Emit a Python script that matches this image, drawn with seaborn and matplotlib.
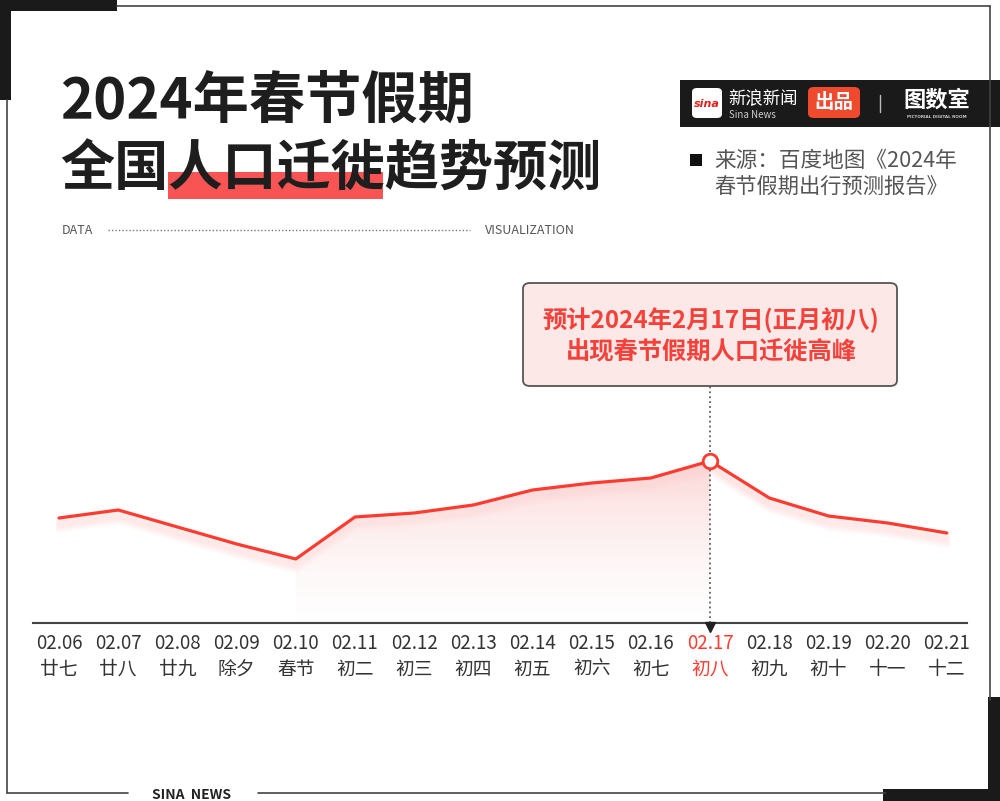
import numpy as np
import pandas as pd
import matplotlib
matplotlib.use("Agg")
import matplotlib.pyplot as plt
import seaborn as sns
from matplotlib.patches import Rectangle, FancyBboxPatch, Polygon

# ---------------- data ----------------
dates = ["02.06", "02.07", "02.08", "02.09", "02.10", "02.11", "02.12", "02.13",
         "02.14", "02.15", "02.16", "02.17", "02.18", "02.19", "02.20", "02.21"]
lunar = ["廿七", "廿八", "廿九", "除夕", "春节", "初二", "初三", "初四",
         "初五", "初六", "初七", "初八", "初九", "初十", "十一", "十二"]
values = [105, 113, 96, 79, 64, 106, 110, 118, 133, 140, 145, 162, 125, 107, 100, 90]
peak_idx = 11
fill_start = 4

title1 = "2024年春节假期"
title2_parts = ["全国", "人口迁徙", "趋势预测"]
source1 = "来源：百度地图《2024年"
source2 = "春节假期出行预测报告》"
note1 = "预计2024年2月17日(正月初八)"
note2 = "出现春节假期人口迁徙高峰"

RED = "#ff3b30"
DARK = "#1e1e1e"

sns.set_theme(style="white")
plt.rcParams["font.family"] = ["Noto Sans CJK SC", "DejaVu Sans"]

W, H = 1000, 801
fig = plt.figure(figsize=(10, 8.01), dpi=100)
fig.patch.set_facecolor("white")

def fx(px):
    return px / W

def fy(py):
    return 1 - py / H

# ---------------- axes ----------------
ax_left, ax_right, ax_bottom, ax_top = 33, 967, 623, 260
ax = fig.add_axes([fx(ax_left), fy(ax_bottom), (ax_right - ax_left) / W, (ax_bottom - ax_top) / H])
ax.set_facecolor("none")

df = pd.DataFrame({"x": np.arange(len(dates)), "v": values, "date": dates})
xs = df["x"].to_numpy()
vs = df["v"].to_numpy().astype(float)

# soft glow below the line
for i in range(1, 8):
    ax.plot(xs, vs - i * 1.6, color=RED, alpha=0.022, lw=5, solid_capstyle="round", zorder=1)

# gradient fill between fill_start and the peak
seg_x = xs[fill_start:peak_idx + 1]
seg_v = vs[fill_start:peak_idx + 1]
poly_pts = list(zip(seg_x, seg_v)) + [(seg_x[-1], 0), (seg_x[0], 0)]
poly = Polygon(poly_pts, closed=True, facecolor="none", edgecolor="none")
ax.add_patch(poly)
n = 256
grad = np.zeros((n, 1, 4))
t = np.linspace(0, 1, n)[:, None]  # 0 top, 1 bottom
top_c = np.array([0.99, 0.80, 0.80])
bot_c = np.array([1.0, 1.0, 1.0])
grad[:, 0, :3] = top_c * (1 - t) + bot_c * t
grad[:, 0, 3] = 0.8 * (1 - t[:, 0]) + 0.25 * t[:, 0]
im = ax.imshow(grad, extent=[seg_x[0], seg_x[-1], 0, seg_v.max()], aspect="auto",
               origin="upper", zorder=1, interpolation="bicubic")
im.set_clip_path(poly)

sns.lineplot(data=df, x="x", y="v", ax=ax, color=RED, lw=2.3, zorder=3)

# dotted guide and peak marker
ax.plot([peak_idx, peak_idx], [0, 237], ls=(0, (1.2, 2.0)), color="#444", lw=1.1, zorder=2, clip_on=False)
ax.plot([peak_idx], [-4], marker="v", color="#222", ms=6.5, clip_on=False, zorder=4)
sns.scatterplot(x=[peak_idx], y=[values[peak_idx]], ax=ax, s=110, color="white",
                edgecolor=RED, linewidth=2.0, zorder=5)

ax.set_xlim(-0.44, 15.34)
ax.set_ylim(0, ax_bottom - ax_top)
ax.set_yticks([])
for s in ["top", "right", "left"]:
    ax.spines[s].set_visible(False)
ax.spines["bottom"].set_color("#444")
ax.spines["bottom"].set_linewidth(1.5)
ax.set_xlabel("")
ax.set_ylabel("")
ax.set_xticks(xs)
ax.set_xticklabels([f"{d}\n{l}" for d, l in zip(dates, lunar)], fontsize=13.5,
                   linespacing=1.3, color="#333")
ax.tick_params(axis="x", length=0, pad=7)
for i, lab in enumerate(ax.get_xticklabels()):
    if i == peak_idx:
        lab.set_color(RED)

# ---------------- annotation box ----------------
bx0, bx1, by0, by1 = 523, 897, 283, 386
box = FancyBboxPatch((fx(bx0), fy(by1)), (bx1 - bx0) / W, (by1 - by0) / H,
                     boxstyle="round,pad=0,rounding_size=0.007", transform=fig.transFigure,
                     facecolor="#fde8e8", edgecolor="#555555", lw=1.3, zorder=6)
fig.add_artist(box)
fig.text(fx(711), fy(320), note1, ha="center", va="center", fontsize=17.5,
         color="#f5413a", fontweight="bold", zorder=7)
fig.text(fx(711), fy(352), note2, ha="center", va="center", fontsize=17.5,
         color="#f5413a", fontweight="bold", zorder=7)

# ---------------- title ----------------
fig.text(fx(60), fy(101), title1, ha="left", va="center", fontsize=40.5, fontweight="heavy", color=DARK)
fig.add_artist(Rectangle((fx(168), fy(199)), (383 - 168) / W, (199 - 172) / H,
                         transform=fig.transFigure, facecolor="#f95454", edgecolor="none", zorder=1))
t2 = fig.text(fx(60), fy(170), "".join(title2_parts), ha="left", va="center", fontsize=39,
              fontweight="heavy", color=DARK, zorder=3)

# DATA ... VISUALIZATION
fig.text(fx(62), fy(230), "DATA", ha="left", va="center", fontsize=9, color="#555")
fig.add_artist(plt.Line2D([fx(108), fx(470)], [fy(230), fy(230)], transform=fig.transFigure,
                          ls=(0, (1, 1.5)), color="#777", lw=1))
fig.text(fx(485), fy(230), "VISUALIZATION", ha="left", va="center", fontsize=9, color="#555")

# ---------------- logo bar ----------------
fig.add_artist(Rectangle((fx(680), fy(127)), 320 / W, 47 / H, transform=fig.transFigure,
                         facecolor="#1a1a1a", edgecolor="none"))
fig.add_artist(FancyBboxPatch((fx(692), fy(118)), 30 / W, 30 / H, transform=fig.transFigure,
                              boxstyle="round,pad=0,rounding_size=0.005", facecolor="white", edgecolor="none"))
fig.text(fx(707), fy(104), "sina", ha="center", va="center", fontsize=8, color="#e0201a",
         fontweight="bold", style="italic", family="DejaVu Sans")
fig.text(fx(728), fy(98), "新浪新闻", ha="left", va="center", fontsize=12.5, color="white")
fig.text(fx(729), fy(115), "Sina News", ha="left", va="center", fontsize=7, color="#cccccc")
fig.add_artist(FancyBboxPatch((fx(808), fy(118)), 52 / W, 31 / H, transform=fig.transFigure,
                              boxstyle="round,pad=0,rounding_size=0.006", facecolor="#f04a2e", edgecolor="none"))
fig.text(fx(834), fy(102), "出品", ha="center", va="center", fontsize=14, color="white", fontweight="bold")
fig.add_artist(plt.Line2D([fx(880), fx(880)], [fy(95), fy(112)], transform=fig.transFigure, color="#bbb", lw=1))
fig.text(fx(937), fy(100), "图数室", ha="center", va="center", fontsize=16, color="white",
         fontweight="heavy", style="italic")
fig.text(fx(937), fy(117), "PICTORIAL DIGITAL ROOM", ha="center", va="center", fontsize=3,
         color="#cccccc", fontweight="bold", family="DejaVu Sans")

# source
fig.add_artist(Rectangle((fx(690), fy(166)), 12 / W, 12 / H, transform=fig.transFigure,
                         facecolor="#111", edgecolor="none"))
fig.text(fx(714), fy(161), source1, ha="left", va="center", fontsize=15.6, color="#555")
fig.text(fx(714), fy(188), source2, ha="left", va="center", fontsize=15.3, color="#555")

# ---------------- frame ----------------
def fline(x0, y0, x1, y1, lw=1.2, color="#444"):
    fig.add_artist(plt.Line2D([fx(x0), fx(x1)], [fy(y0), fy(y1)], transform=fig.transFigure,
                              color=color, lw=lw))

fline(117, 6, 990, 6)
fline(990, 6, 990, 700)
fline(7, 100, 7, 793)
fline(7, 793, 128, 793)
fline(258, 793, 885, 793)
fig.text(fx(192), fy(795), "SINA  NEWS", ha="center", va="center", fontsize=10,
         fontweight="bold", color="#222")
for (x0, y0, w, h) in [(0, 0, 117, 11), (0, 0, 11, 100), (883, 789, 117, 12), (988, 697, 12, 104)]:
    fig.add_artist(Rectangle((fx(x0), fy(y0 + h)), w / W, h / H, transform=fig.transFigure,
                             facecolor="#1a1a1a", edgecolor="none"))

fig.savefig("out.png", dpi=100, facecolor="white")
